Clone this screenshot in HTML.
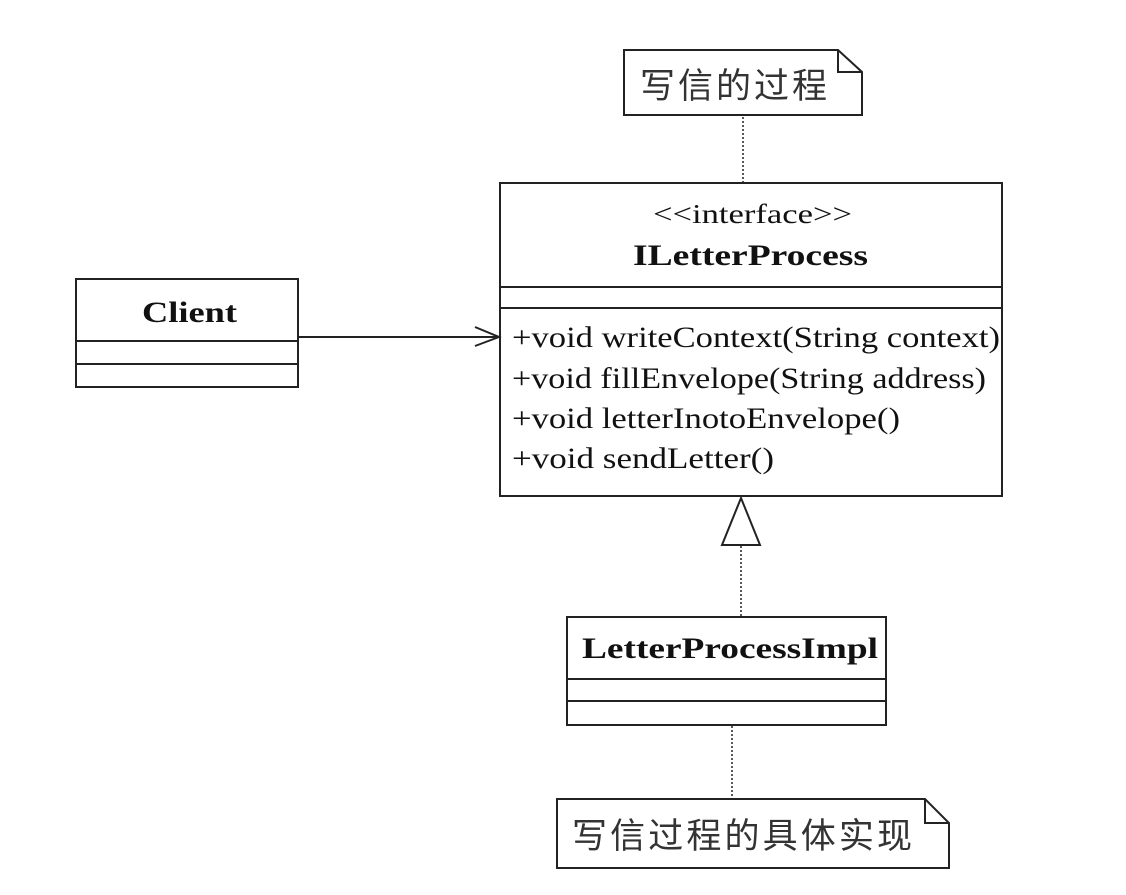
<!DOCTYPE html>
<html><head><meta charset="utf-8"><style>body{margin:0;background:#fff}</style></head>
<body>
<svg width="1126" height="890" xmlns="http://www.w3.org/2000/svg" font-family="'Liberation Serif','Noto Serif CJK SC',serif">
<g fill="none" stroke="#222" stroke-width="2">
<path d="M624,50 H838 L862,72 V115 H624 Z"/>
<path d="M838,50 V72 H862"/>
<line x1="743" y1="117" x2="743" y2="183" stroke-dasharray="2,2" stroke-width="1.5"/>
<rect x="500" y="183" width="502" height="313"/>
<line x1="500" y1="287" x2="1002" y2="287"/>
<line x1="500" y1="308" x2="1002" y2="308"/>
<rect x="76" y="279" width="222" height="108"/>
<line x1="76" y1="341" x2="298" y2="341"/>
<line x1="76" y1="364" x2="298" y2="364"/>
<line x1="298" y1="337" x2="499" y2="337"/>
<path d="M475,327 L499,337 L475,346"/>
<path d="M741,498 L760,545 H722 Z"/>
<line x1="741" y1="546" x2="741" y2="616" stroke-dasharray="2,2" stroke-width="1.5"/>
<rect x="567" y="617" width="319" height="108"/>
<line x1="567" y1="679" x2="886" y2="679"/>
<line x1="567" y1="701" x2="886" y2="701"/>
<line x1="732" y1="726" x2="732" y2="799" stroke-dasharray="2,2" stroke-width="1.5"/>
<path d="M557,799 H925 L949,823 V868 H557 Z"/>
<path d="M925,799 V823 H949"/>
</g>
<g fill="#111">
<text x="640" y="98" font-size="35" textLength="187" lengthAdjust="spacing" fill="#333" font-family="'Noto Sans CJK SC',sans-serif">写信的过程</text>
<text x="653" y="223" font-size="27" textLength="199" lengthAdjust="spacingAndGlyphs">&lt;&lt;interface&gt;&gt;</text>
<text x="633" y="265" font-size="30" font-weight="bold" textLength="235" lengthAdjust="spacingAndGlyphs">ILetterProcess</text>
<text x="512" y="347" font-size="30" textLength="488" lengthAdjust="spacingAndGlyphs">+void writeContext(String context)</text>
<text x="512" y="388" font-size="30" textLength="474" lengthAdjust="spacingAndGlyphs">+void fillEnvelope(String address)</text>
<text x="512" y="428" font-size="30" textLength="388" lengthAdjust="spacingAndGlyphs">+void letterInotoEnvelope()</text>
<text x="512" y="468" font-size="30" textLength="262" lengthAdjust="spacingAndGlyphs">+void sendLetter()</text>
<text x="142" y="322" font-size="30" font-weight="bold" textLength="95" lengthAdjust="spacingAndGlyphs">Client</text>
<text x="582" y="658" font-size="30" font-weight="bold" textLength="296" lengthAdjust="spacingAndGlyphs">LetterProcessImpl</text>
<text x="572" y="848" font-size="35" textLength="340" lengthAdjust="spacing" fill="#333" font-family="'Noto Sans CJK SC',sans-serif">写信过程的具体实现</text>
</g>
</svg>
</body></html>
